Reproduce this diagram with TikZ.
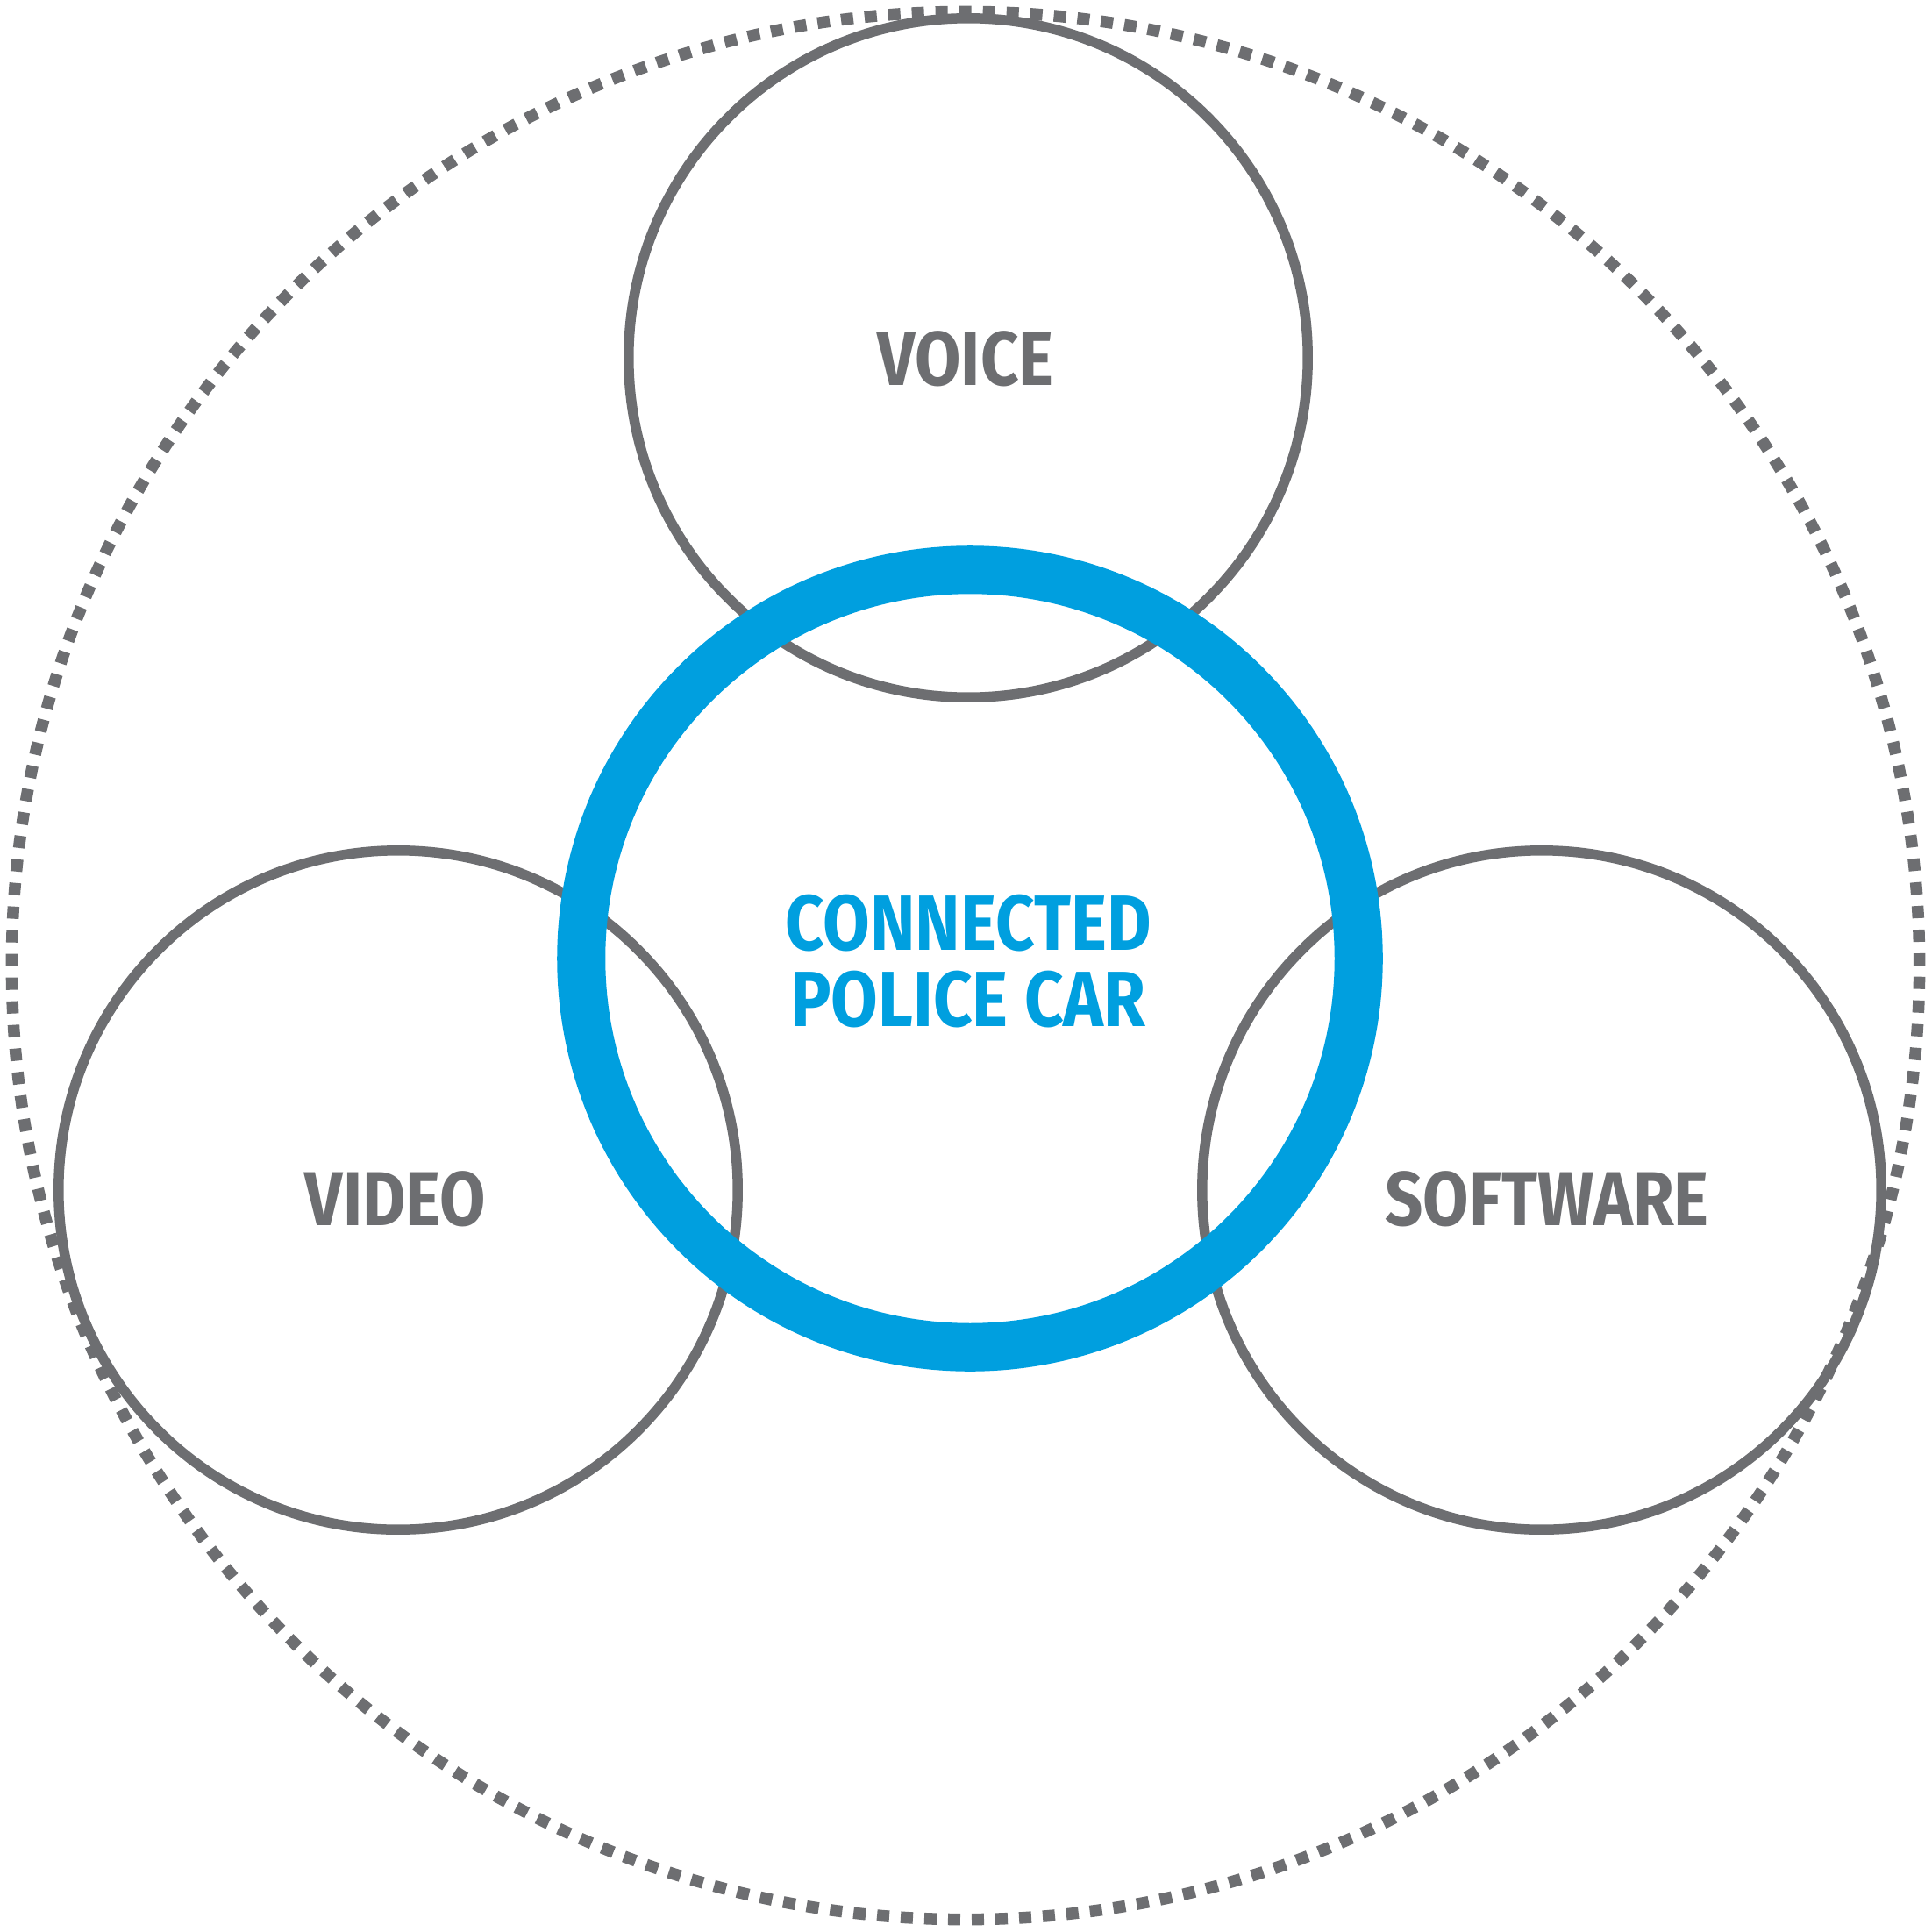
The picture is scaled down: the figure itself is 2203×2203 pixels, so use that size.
\documentclass[tikz,border=0pt]{standalone}
\usepackage{fontspec}
\usepackage{tikz}
\newfontfamily\labelfont[FakeStretch=0.87]{Fira Sans}
\definecolor{ringgray}{HTML}{6D6E71}
\definecolor{carblue}{HTML}{009FDF}
\begin{document}
\begin{tikzpicture}[x=0.01cm,y=-0.01cm,
  topic/.style={circle,draw=ringgray,line width=0.115cm,minimum size=7.74cm,inner sep=0pt},
  tag/.style={anchor=base,text=ringgray,inner sep=0pt,font=\labelfont\bfseries\fontsize{24.8pt}{30pt}\selectfont}]
\useasboundingbox (0,0) rectangle (2203,2203);
\node [circle,draw=ringgray,line width=0.135cm,dash pattern=on 0.14cm off 0.13cm,minimum size=21.74cm,inner sep=0pt] (ring) at (1101,1101) {};
\node [topic] (voice) at (1104,408) {};
\node [topic] (video) at (454,1357) {};
\node [topic] (software) at (1758,1357) {};
\node [circle,draw=carblue,line width=0.55cm,minimum size=8.86cm,inner sep=0pt] (car) at (1106,1093) {};
\node [tag] (voicetext) at (1101,439) {VOICE};
\node [tag] (videotext) at (451,1397) {VIDEO};
\node [tag] (softwaretext) at (1764,1397) {SOFTWARE};
\node [align=center,text=carblue,inner sep=0pt,font=\labelfont\bfseries\fontsize{25.4pt}{24.75pt}\selectfont] (cartext) at (1104,1096) {CONNECTED\\POLICE CAR};
\end{tikzpicture}
\end{document}
